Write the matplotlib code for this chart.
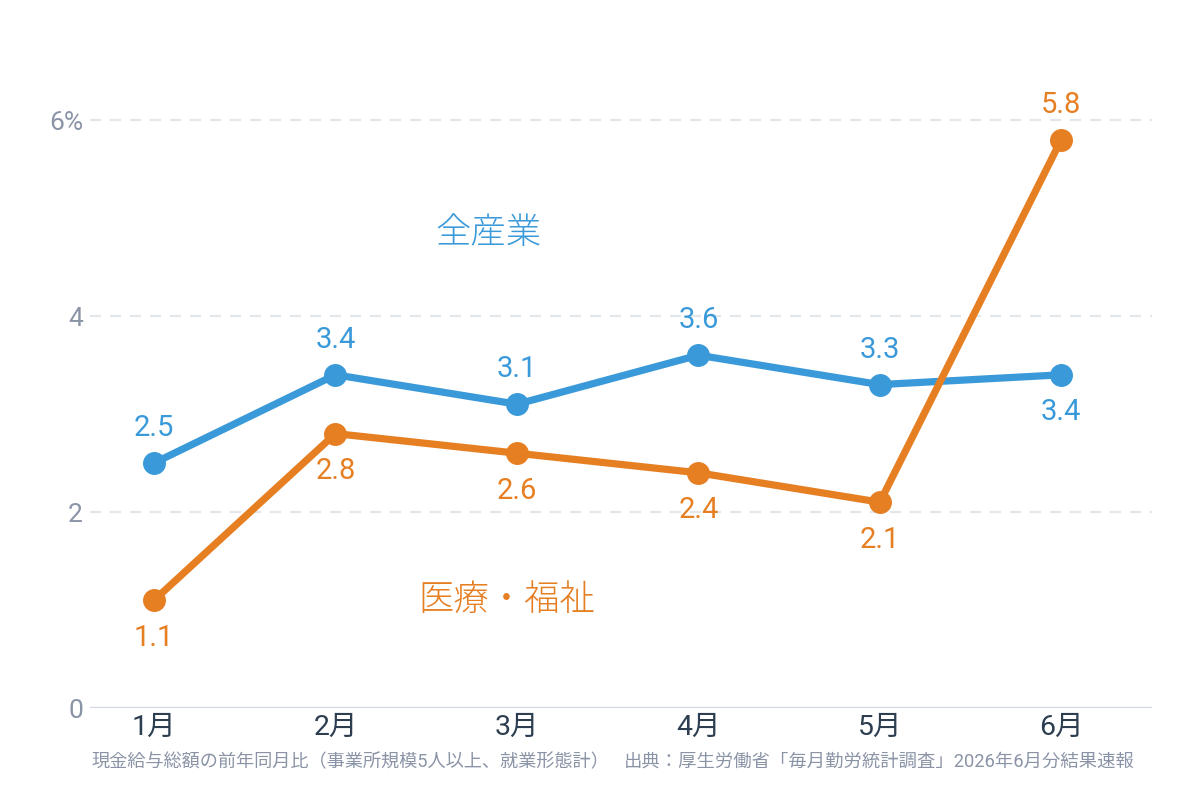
import matplotlib
matplotlib.use("Agg")
import matplotlib.pyplot as plt

FAM = ['Roboto', 'Noto Sans CJK JP', 'DejaVu Sans']
plt.rcParams['font.family'] = FAM

months = ["1月", "2月", "3月", "4月", "5月", "6月"]
all_industries = [2.5, 3.4, 3.1, 3.6, 3.3, 3.4]
medical_welfare = [1.1, 2.8, 2.6, 2.4, 2.1, 5.8]
yticks = [0, 2, 4, 6]
ytick_labels = ["0", "2", "4", "6%"]
series_names = ["全産業", "医療・福祉"]
footer_left = "現金給与総額の前年同月比（事業所規模5人以上、就業形態計）"
footer_right = "出典：厚生労働省「毎月勤労統計調査」2026年6月分結果速報"

BLUE = "#3a9ad9"
ORANGE = "#e67e22"
GRID = "#e3e7ec"
TICK = "#8a94a6"
DARK = "#2c3e50"

fig = plt.figure(figsize=(12, 8), dpi=100)
ax = fig.add_axes([0.075, 0.115, 0.885, 0.8575])
x = list(range(len(months)))

ax.plot(x, all_industries, color=BLUE, lw=5.2, marker="o", ms=15.5, zorder=3,
        solid_capstyle="round")
ax.plot(x, medical_welfare, color=ORANGE, lw=5.2, marker="o", ms=15.5, zorder=4,
        solid_capstyle="round")

for i, v in enumerate(all_industries):
    off = -27 if i == len(x) - 1 else 25
    ax.annotate(f"{v:.1f}", (i, v), xytext=(0, off), textcoords="offset points",
                ha="center", va="center", color=BLUE, fontsize=21)
for i, v in enumerate(medical_welfare):
    off = 25 if i == len(x) - 1 else -27
    ax.annotate(f"{v:.1f}", (i, v), xytext=(0, off), textcoords="offset points",
                ha="center", va="center", color=ORANGE, fontsize=21)

ax.text(1.84, 4.85, series_names[0], color=BLUE, fontsize=25.5, ha="center",
        va="center", family=['Noto Sans CJK JP'], fontweight="light")
ax.text(1.946, 1.1, series_names[1], color=ORANGE, fontsize=25.5, ha="center",
        va="center", family=['Noto Sans CJK JP'], fontweight="light")

ax.set_xlim(-0.353, 5.5)
ax.set_ylim(0, 7)
ax.set_xticks(x)
ax.set_xticklabels(months, fontsize=20.5, color=DARK)
ax.set_yticks(yticks)
ax.set_yticklabels(ytick_labels, fontsize=19, color=TICK)
ax.tick_params(axis="both", length=0)
ax.tick_params(axis="x", pad=4)
ax.tick_params(axis="y", pad=5)

for y in yticks[1:]:
    ax.axhline(y, color=GRID, lw=1.6, ls=(0, (5, 4)), zorder=1)
ax.axhline(0, color="#cfd6df", lw=1.6, zorder=1)

for s in ax.spines.values():
    s.set_visible(False)

fig.text(91 / 1200, 1 - 762 / 800, footer_left, fontsize=13.1, color=TICK,
         ha="left", va="center")
fig.text(624 / 1200, 1 - 762 / 800, footer_right, fontsize=13.2, color=TICK,
         ha="left", va="center")

fig.savefig("out.png", dpi=100)
